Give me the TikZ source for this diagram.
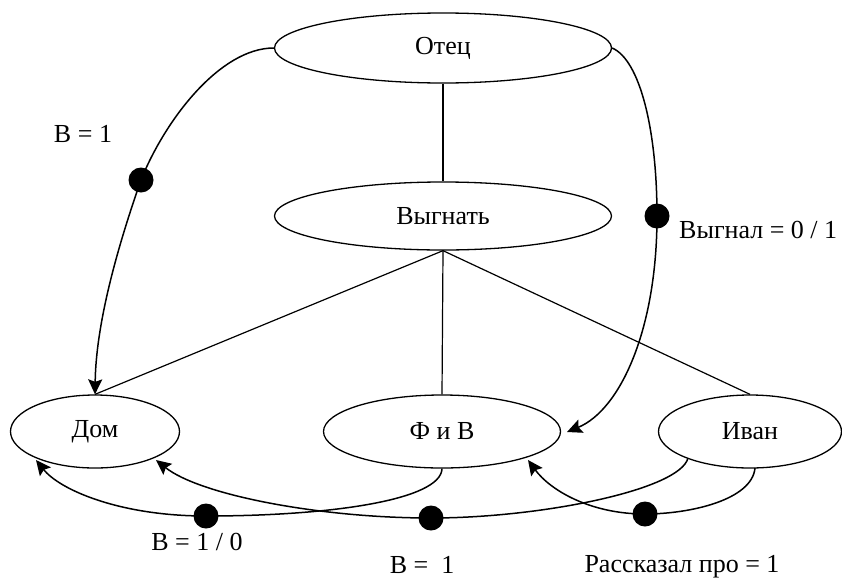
\documentclass[tikz,border=0pt]{standalone}
\usepackage{fontspec}
\setmainfont{Liberation Serif}
\usetikzlibrary{shapes.geometric,arrows.meta}
\begin{document}
\begin{tikzpicture}[x=1pt,y=-1pt,
  ell/.style={draw,ellipse,line width=1.3pt,inner sep=0pt,font=\fontsize{26}{28}\selectfont},
  lbl/.style={font=\fontsize{26}{28}\selectfont,inner sep=0pt},
  con/.style={line width=1.2pt},
  arr/.style={line width=1.5pt,-{Stealth[length=15pt,width=14pt,inset=2.5pt]}},
  dotm/.style={fill=black,circle,minimum size=25pt,inner sep=0pt}]
\useasboundingbox (0,0) rectangle (842,581);
\node[ell,minimum width=337pt,minimum height=70pt] (otec) at (443,48) {Отец};
\node[ell,minimum width=337pt,minimum height=68pt] (vyg) at (443,216) {Выгнать};
\node[ell,minimum width=169pt,minimum height=73pt] (dom) at (95,431.5) {Дом};
\node[ell,minimum width=237pt,minimum height=73pt] (fiv) at (442,431.5) {Ф и В};
\node[ell,minimum width=183pt,minimum height=73pt] (ivan) at (750,431.5) {Иван};
\draw[con] (otec.south) -- (vyg.north);
\draw[con] (vyg.south) -- (dom.north);
\draw[con] (vyg.south) -- (fiv.north);
\draw[con] (vyg.south) -- (ivan.north);
\coordinate (d1) at (141,180);
\coordinate (d2) at (657,216);
\coordinate (d3) at (206,516);
\coordinate (d4) at (431,518);
\coordinate (d5) at (645,514);
\coordinate (ivsw) at (688,458);
\coordinate (ivs) at (755,468);
\coordinate (domse) at (156,460);
\coordinate (domsw) at (36,460);
\coordinate (fivse) at (528,460);
\coordinate (five) at (567,432);
\draw[arr] (otec.west) .. controls (220,48) and (165,120) .. (d1) .. controls (120,240) and (96,320) .. (dom.north);
\draw[arr] (otec.east) .. controls (640,60) and (657,130) .. (d2) .. controls (657,330) and (620,410) .. (five);
\draw[arr] (fiv.south) .. controls (441,500) and (330,516) .. (d3) .. controls (120,516) and (60,490) .. (domsw);
\draw[arr] (ivsw) .. controls (680,490) and (540,518) .. (d4) .. controls (320,518) and (200,495) .. (domse);
\draw[arr] (ivs) .. controls (752,500) and (690,514) .. (d5) .. controls (590,514) and (550,490) .. (fivse);
\foreach \d in {d1,d2,d3,d4,d5} \node[dotm] at (\d) {};
\node[lbl] (l1) at (83,134) {В = 1};
\node[lbl,anchor=west] (l2) at (679,230) {Выгнал = 0 / 1};
\node[lbl] (l3) at (197,542) {В = 1 / 0};
\node[lbl] (l4) at (422,565) {В =\ \ 1};
\node[lbl] (l5) at (682,567) {Рассказал про = 1};
\end{tikzpicture}
\end{document}
